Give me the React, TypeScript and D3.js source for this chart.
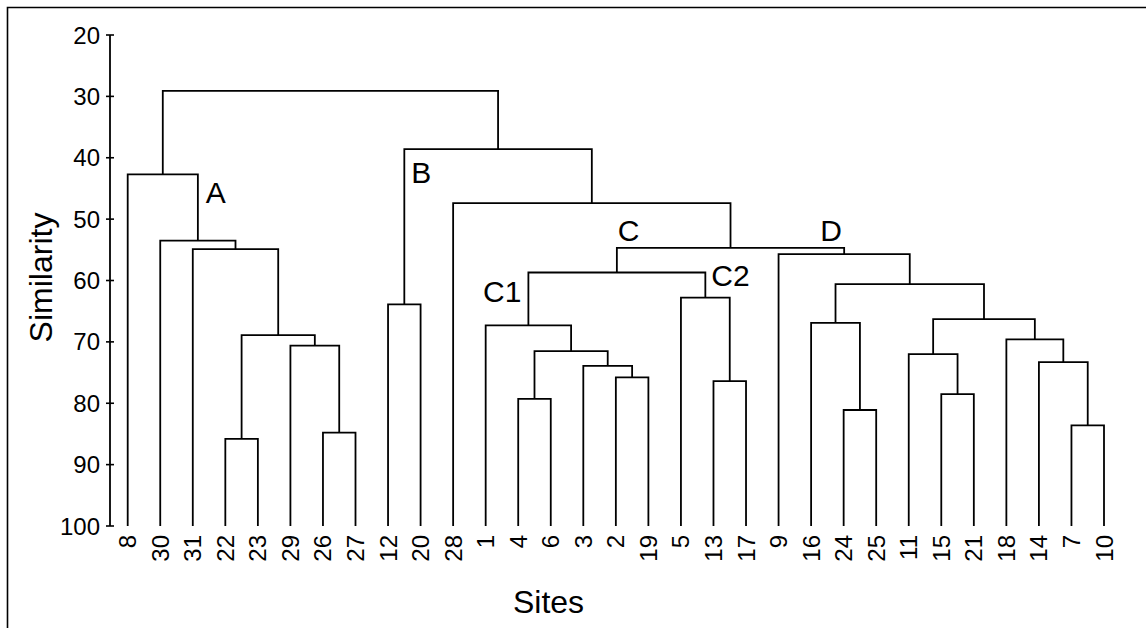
import * as d3 from "d3";

// leaf order along the x axis
const sites = ["8", "30", "31", "22", "23", "29", "26", "27", "12", "20", "28", "1", "4", "6", "3", "2", "19", "5", "13", "17", "9", "16", "24", "25", "11", "15", "21", "18", "14", "7", "10"];

// merges: [left, right, similarity]; merge i gets id "m" + i
const merges: [string, string, number][] = [
  ["22", "23", 85.8],
  ["26", "27", 84.8],
  ["29", "m1", 70.6],
  ["m0", "m2", 68.9],
  ["31", "m3", 54.9],
  ["30", "m4", 53.5],
  ["8", "m5", 42.7],
  ["12", "20", 63.9],
  ["4", "6", 79.3],
  ["2", "19", 75.8],
  ["3", "m9", 73.9],
  ["m8", "m10", 71.5],
  ["1", "m11", 67.3],
  ["13", "17", 76.4],
  ["5", "m13", 62.8],
  ["m12", "m14", 58.7],
  ["24", "25", 81.1],
  ["16", "m16", 66.9],
  ["15", "21", 78.5],
  ["11", "m18", 72.0],
  ["7", "10", 83.6],
  ["14", "m20", 73.3],
  ["18", "m21", 69.6],
  ["m19", "m22", 66.3],
  ["m17", "m23", 60.6],
  ["9", "m24", 55.7],
  ["m15", "m25", 54.7],
  ["28", "m26", 47.4],
  ["m7", "m27", 38.6],
  ["m6", "m28", 29.1],
];

const yTicks = [20, 30, 40, 50, 60, 70, 80, 90, 100];

const clusterNames = ["A", "B", "C", "C1", "C2", "D"];
const clusterNodes = ["m6", "m28", "m26", "m15", "m15", "m26"];

// label placement relative to one end of the node's bar
const labelLayout: { side: "left" | "right"; dx: number; dy: number; anchor: string }[] = [
  { side: "right", dx: 8, dy: 29, anchor: "start" },
  { side: "left", dx: 7, dy: 33.5, anchor: "start" },
  { side: "left", dx: 1, dy: -7, anchor: "start" },
  { side: "left", dx: -7, dy: 29, anchor: "end" },
  { side: "right", dx: 6, dy: 13.5, anchor: "start" },
  { side: "right", dx: -24, dy: -7, anchor: "start" },
];

const W = 1146;
const H = 628;
const font = "'Liberation Sans', Arial, Helvetica, sans-serif";

export default function App() {
  const y = d3.scaleLinear().domain([20, 100]).range([35, 526]);
  const x = d3.scalePoint<string>().domain(sites).range([127.7, 1104]);

  const pos: Record<string, { x: number; y: number }> = {};
  sites.forEach((s) => (pos[s] = { x: x(s)!, y: y(100) }));

  const kids: Record<string, [string, string]> = {};
  const links = merges.map(([a, b, s], i) => {
    const id = "m" + i;
    const pa = pos[a];
    const pb = pos[b];
    const yy = y(s);
    pos[id] = { x: (pa.x + pb.x) / 2, y: yy };
    kids[id] = [a, b];
    const p = d3.path();
    p.moveTo(pa.x, pa.y);
    p.lineTo(pa.x, yy);
    p.lineTo(pb.x, yy);
    p.lineTo(pb.x, pb.y);
    return { id, d: p.toString() };
  });

  const axisX = 110;

  return (
    <svg width={W} height={H} style={{ position: "absolute", left: 0, top: 0, background: "#fff" }}>
      <rect x={0} y={0} width={W} height={H} fill="#fff" />
      {/* frame */}
      <path d={`M7.5,${H + 5}V7.5H${W + 5}`} fill="none" stroke="#000" strokeWidth={1.6} />

      {/* y axis */}
      <line x1={axisX} x2={axisX} y1={y(20)} y2={y(100)} stroke="#000" strokeWidth={1.8} />
      {yTicks.map((t) => (
        <g key={t}>
          <line x1={axisX - 4} x2={axisX + 4} y1={y(t)} y2={y(t)} stroke="#000" strokeWidth={1.6} />
          <text x={axisX - 10} y={y(t)} textAnchor="end" dominantBaseline="central" fontFamily={font} fontSize={24}>
            {t}
          </text>
        </g>
      ))}

      {/* dendrogram */}
      {links.map((l) => (
        <path key={l.id} d={l.d} fill="none" stroke="#000" strokeWidth={1.8} />
      ))}

      {/* leaf labels */}
      {sites.map((s) => (
        <text
          key={s}
          transform={`translate(${x(s)},535) rotate(-90)`}
          textAnchor="end"
          dominantBaseline="central"
          fontFamily={font}
          fontSize={24}
        >
          {s}
        </text>
      ))}

      {/* cluster labels */}
      {clusterNames.map((n, i) => {
        const node = clusterNodes[i];
        const lay = labelLayout[i];
        const [a, b] = kids[node];
        const ref = pos[lay.side === "left" ? a : b];
        return (
          <text key={n} x={ref.x + lay.dx} y={pos[node].y + lay.dy} textAnchor={lay.anchor} fontFamily={font} fontSize={30}>
            {n}
          </text>
        );
      })}

      {/* axis titles */}
      <text transform="translate(52,277.5) rotate(-90)" textAnchor="middle" fontFamily={font} fontSize={32}>
        Similarity
      </text>
      <text x={548.5} y={613} textAnchor="middle" fontFamily={font} fontSize={32}>
        Sites
      </text>
    </svg>
  );
}
